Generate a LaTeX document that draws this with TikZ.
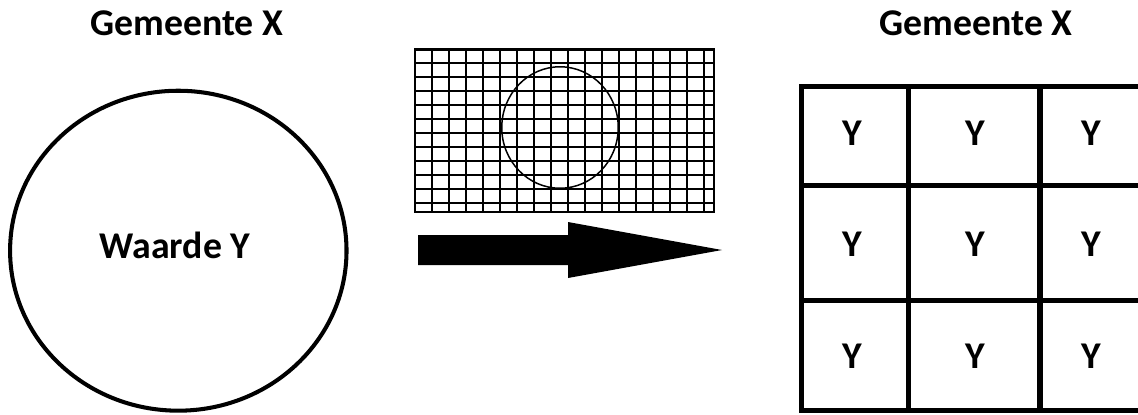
\documentclass[tikz,border=0pt]{standalone}
\usepackage{fontspec}
\setmainfont{Carlito}
\usetikzlibrary{shapes.geometric}

\begin{document}
\begin{tikzpicture}[
  x=0.02cm, y=-0.02cm,
  title/.style={font=\fontsize{21.5}{26}\selectfont\bfseries},
  yval/.style={font=\fontsize{21.5}{26}\selectfont\bfseries},
  gridline/.style={line width=1.15pt},
  cellline/.style={line width=2.9pt}
]
\useasboundingbox (0,0) rectangle (1138,414);

% titles
\node[title] (title1) at (187,23) {Gemeente X};
\node[title] (title2) at (976,23) {Gemeente X};

% one value for the whole municipality
\node[draw, ellipse, line width=2.3pt, minimum width=6.73cm, minimum height=6.4cm] (gemeente) at (178.3,250.7) {};
\node[yval] (waarde) at (175,245) {Waarde Y};

% fine grid over the municipality
\draw[gridline] (415,49.5) rectangle (714,211.5);
\foreach \i in {1,...,17}
  \draw[gridline] (415+17*\i,49.5) -- (415+17*\i,211.5);
\foreach \j in {1,...,11}
  \draw[gridline] (415,49.5+13.95*\j) -- (714,49.5+13.95*\j);
\node[draw, ellipse, line width=0.85pt, minimum width=2.33cm, minimum height=2.43cm, inner sep=0pt] (small) at (560,127.5) {};

% big arrow
\fill (418,235) -- (568,235) -- (568,222) -- (722,250) -- (568,278) -- (568,265) -- (418,265) -- cycle;

% table of cells
\draw[cellline, line cap=rect] (1145,86.7) -- (801.7,86.7) -- (801.7,410.7) -- (1145,410.7);
\draw[cellline] (801.7,185.7) -- (1145,185.7);
\draw[cellline] (801.7,300.7) -- (1145,300.7);
\draw[cellline] (908.3,86.7) -- (908.3,410.7);
\draw[cellline] (1040,86.7) -- (1040,410.7);

\foreach \r/\yy in {1/133,2/244,3/356}
  \foreach \c/\xx in {1/852,2/975,3/1091}
    \node[yval] (y-\r-\c) at (\xx,\yy) {Y};

\end{tikzpicture}
\end{document}
